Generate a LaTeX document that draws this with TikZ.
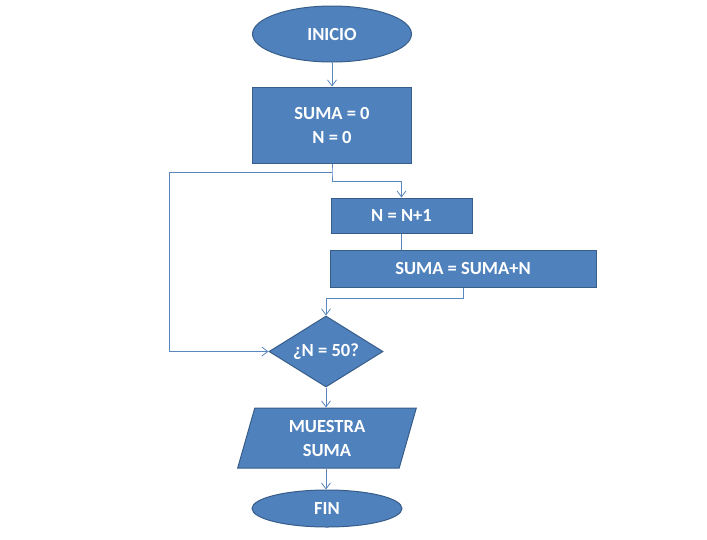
\documentclass[tikz,border=0pt]{standalone}
\usepackage{fontspec}
\setmainfont{Carlito}
\usetikzlibrary{shapes.geometric,arrows.meta}
\definecolor{fillb}{HTML}{4F81BD}
\definecolor{edgeb}{HTML}{385D8A}
\definecolor{lineb}{HTML}{5B87C0}
\begin{document}
\begin{tikzpicture}[x=1pt,y=-1pt,
  shp/.style={fill=fillb,draw=edgeb,line width=1pt,text=white,font=\fontsize{18.5}{24}\selectfont\bfseries,align=center,inner sep=0pt},
  oval/.style={shp,ellipse,minimum width=#1},
  boxs/.style={shp,rectangle},
  conn/.style={draw=lineb,line width=0.8pt},
  arr/.style={conn,-{Straight Barb[length=6pt,width=9pt]}}]
\useasboundingbox (0,0) rectangle (707,539);
\node[oval=159pt,minimum height=56pt] (inicio) at (332,34) {INICIO};
\node[boxs,minimum width=159pt,minimum height=76pt] (init) at (332,125) {SUMA = 0\\N = 0};
\node[boxs,minimum width=141pt,minimum height=35pt] (inc) at (401.5,215.5) {N = N+1};
\node[boxs,minimum width=266pt,minimum height=37pt] (sum) at (463,268.5) {SUMA = SUMA+N};
\node[shp,diamond,minimum width=114pt,minimum height=71pt,aspect=1.6] (cond) at (326,351.5) {¿N = 50?};
\node[shp,trapezium,trapezium left angle=76,trapezium right angle=104,minimum width=180pt,minimum height=60pt,trapezium stretches=true] (out) at (327,438) {MUESTRA\\SUMA};
\node[oval=150pt,minimum height=37pt] (fin) at (327,508.5) {FIN};
\coordinate (j1) at (332,172);
\coordinate (j2) at (332,181);
\coordinate (j3) at (401.5,181);
\coordinate (l1) at (169,172);
\coordinate (l2) at (169,351.5);
\coordinate (s1) at (463,298);
\coordinate (s2) at (326,298);
\draw[arr] (inicio.south) -- (init.north);
\draw[conn] (init.south) -- (j1) -- (j2) -- (j3);
\draw[arr] (j3) -- (inc.north);
\draw[conn] (j1) -- (l1) -- (l2);
\draw[arr] (l2) -- (cond.west);
\draw[conn] (inc.south) -- (inc.south |- sum.north);
\draw[conn] (sum.south -| s1) -- (s1) -- (s2);
\draw[arr] (s2) -- (cond.north);
\draw[arr] (cond.south) -- (out.north -| cond.south);
\draw[arr] (out.south -| cond.south) -- (fin.north -| cond.south);
\end{tikzpicture}
\end{document}
